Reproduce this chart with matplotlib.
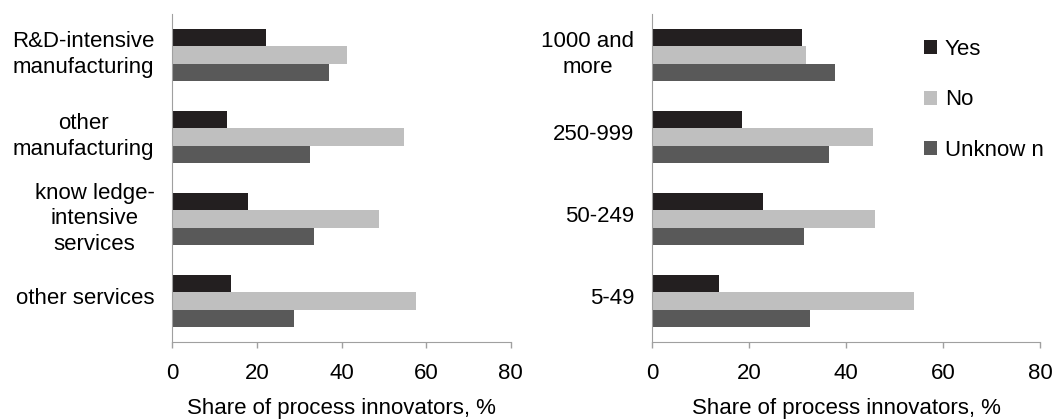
import matplotlib.pyplot as plt
import matplotlib.transforms as mtransforms
import numpy as np

plt.rcParams['font.family'] = ['Liberation Sans', 'DejaVu Sans']

sectors = ["R&D-intensive\nmanufacturing", "other\nmanufacturing",
           "know ledge-\nintensive\nservices", "other services"]
sector_yes = [22.1, 12.9, 17.8, 13.8]
sector_no = [41.4, 54.7, 48.8, 57.6]
sector_unknown = [37.0, 32.5, 33.4, 28.7]

sizes = ["1000 and\nmore", "250-999", "50-249", "5-49"]
size_yes = [30.9, 18.5, 22.8, 13.8]
size_no = [31.7, 45.5, 45.9, 54.0]
size_unknown = [37.7, 36.4, 31.3, 32.5]

series_names = ["Yes", "No", "Unknow n"]
colors = ["#231f20", "#bfbfbf", "#595959"]
xticks = [0, 20, 40, 60, 80]

fs = 16

fig = plt.figure(figsize=(10.55, 4.19), dpi=100)
ax1 = fig.add_axes([0.1635, 0.1838, 0.3205, 0.7828])
ax2 = fig.add_axes([0.6183, 0.1838, 0.3675, 0.7828])

h = 0.215
handles = []
for ax, cats, vals in [(ax1, sectors, [sector_yes, sector_no, sector_unknown]),
                       (ax2, sizes, [size_yes, size_no, size_unknown])]:
    y = np.arange(len(cats))
    for i, v in enumerate(vals):
        b = ax.barh(y + (i - 1) * h, v, height=h, color=colors[i],
                    label=series_names[i])
        if ax is ax2:
            handles.append(b)
    ax.set_ylim(len(cats) - 0.5, -0.5)
    ax.set_xlim(0, 80)
    ax.set_xticks(xticks)
    ax.set_yticks(y)
    ax.set_yticklabels(cats, multialignment='center', linespacing=1.3)
    ax.tick_params(axis='y', length=0, pad=13, labelsize=fs)
    ax.tick_params(axis='x', length=4, color='#a0a0a0', width=1, pad=11,
                   labelsize=fs)
    shift = mtransforms.ScaledTranslation(0, 5 / 100, fig.dpi_scale_trans)
    for lab in ax.get_yticklabels():
        lab.set_transform(lab.get_transform() + shift)
    for s in ['top', 'right']:
        ax.spines[s].set_visible(False)
    for s in ['left', 'bottom']:
        ax.spines[s].set_color('#a0a0a0')
    ax.set_xlabel("Share of process innovators, %", fontsize=fs, labelpad=10)

fig.legend(handles=handles, labels=series_names, loc='upper left',
           bbox_to_anchor=(0.8565, 0.955), frameon=False, fontsize=fs,
           handlelength=0.6, handleheight=0.6, handletextpad=0.35,
           labelspacing=1.33)

fig.savefig("out.png", dpi=100)
